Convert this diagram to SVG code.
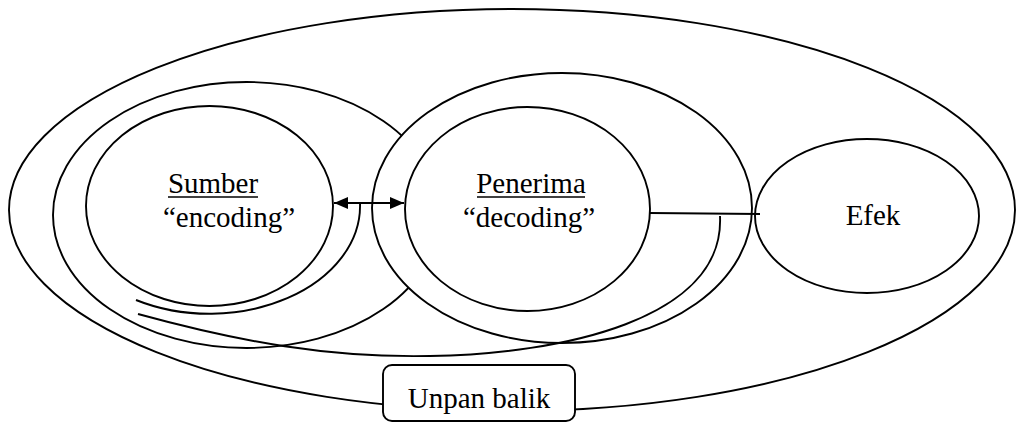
<svg xmlns="http://www.w3.org/2000/svg" width="1016" height="423" viewBox="0 0 1016 423">
<style>
.sh{fill:#fff;stroke:#000;stroke-width:1.9}
.ln{fill:none;stroke:#000;stroke-width:1.9}
.tx{font-family:"Liberation Serif","Times New Roman",serif;font-size:29px;fill:#000}
.ul{stroke:#000;stroke-width:1.6}
</style>
<defs>
<marker id="ah" markerUnits="userSpaceOnUse" markerWidth="14" markerHeight="12" refX="14" refY="6" orient="auto-start-reverse">
<path d="M0,0 L14,6 L0,12 z" fill="#000"/>
</marker>
</defs>
<g id="outer"><ellipse class="sh" cx="512" cy="210" rx="503" ry="201"/></g>
<g id="sumber-outer"><ellipse class="sh" cx="246.5" cy="215" rx="193.5" ry="133"/></g>
<g id="penerima-outer"><ellipse class="sh" cx="562" cy="208" rx="190" ry="135"/></g>
<g id="sumber">
<ellipse class="sh" cx="209.5" cy="206" rx="123.5" ry="100"/>
<text class="tx" x="213" y="193" text-anchor="middle">Sumber</text>
<line class="ul" x1="168" y1="197" x2="258" y2="197"/>
<text class="tx" x="229" y="227" text-anchor="middle">“encoding”</text>
</g>
<g id="penerima">
<ellipse class="sh" cx="527.5" cy="209" rx="122.5" ry="102"/>
<text class="tx" x="531" y="193" text-anchor="middle">Penerima</text>
<line class="ul" x1="477" y1="197" x2="585" y2="197"/>
<text class="tx" x="529" y="227" text-anchor="middle">“decoding”</text>
</g>
<g id="efek">
<ellipse class="sh" cx="867" cy="216" rx="112" ry="77"/>
<text class="tx" x="873" y="225" text-anchor="middle">Efek</text>
</g>
<g id="connectors">
<path class="ln" d="M360,203 A150.5,108 0 0 1 136,300"/>
<path class="ln" d="M138,314 C240,342 330,358 430,356 C560,354 725,320 720,216"/>
<line class="ln" x1="650" y1="213" x2="760" y2="214"/>
<line class="ln" x1="334" y1="203" x2="404" y2="203" stroke-width="2.2" marker-start="url(#ah)" marker-end="url(#ah)"/>
</g>
<g id="unpan-balik">
<rect class="sh" x="383" y="365" width="192" height="56" rx="9"/>
<text class="tx" x="479" y="408" text-anchor="middle">Unpan balik</text>
</g>
</svg>
